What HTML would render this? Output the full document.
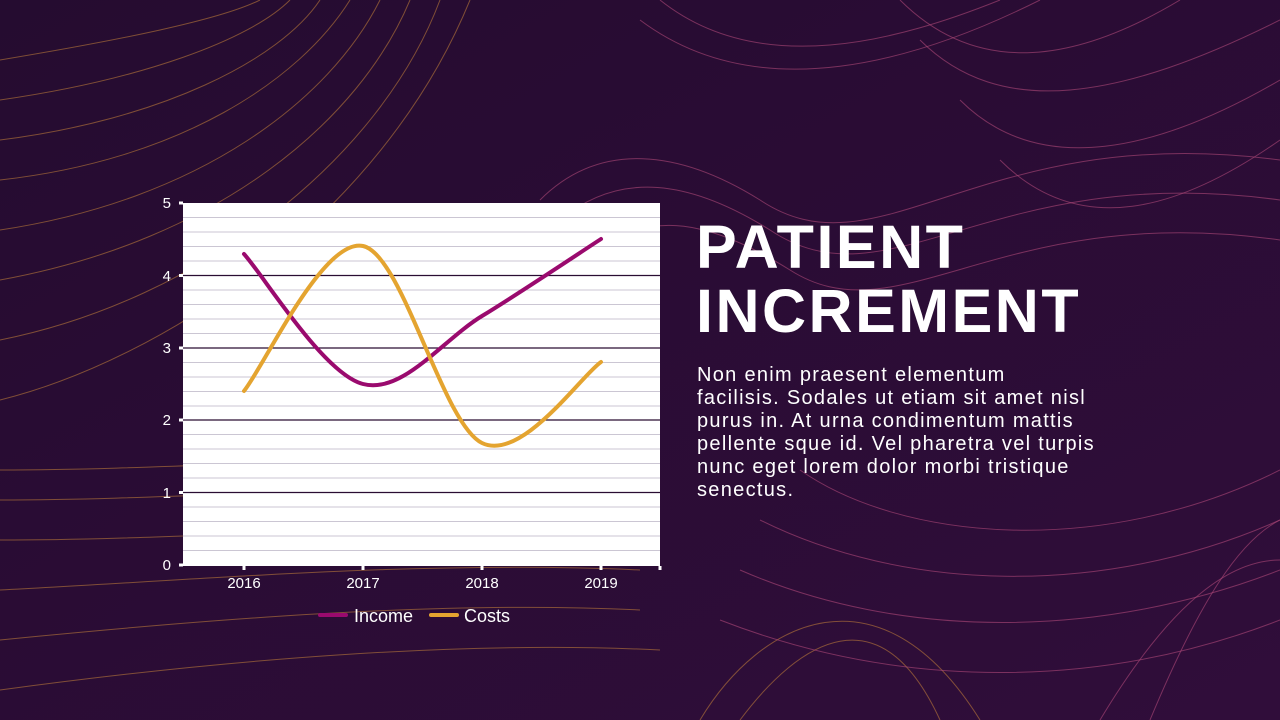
<!DOCTYPE html>
<html><head><meta charset="utf-8"><style>
html,body{margin:0;padding:0;}
body{width:1280px;height:720px;overflow:hidden;background:#2a0d33;position:relative;font-family:"Liberation Sans",sans-serif;}
svg{position:absolute;left:0;top:0;}
.title{position:absolute;left:696px;top:215px;color:#fff;font-weight:bold;font-size:61px;line-height:64px;letter-spacing:2.5px;white-space:nowrap;}
.body{position:absolute;left:697px;top:364px;color:#fff;font-size:20px;line-height:23px;letter-spacing:1.3px;white-space:nowrap;}
</style></head><body>
<svg width="1280" height="720" viewBox="0 0 1280 720">
<defs>
<linearGradient id="bg" x1="0" y1="0" x2="1" y2="1"><stop offset="0" stop-color="#250c30"/><stop offset="1" stop-color="#300d3a"/></linearGradient>
</defs>
<rect width="1280" height="720" fill="url(#bg)"/>
<g fill="none" stroke="#c9853a" stroke-opacity="0.55" stroke-width="1">
<path d="M0,60 C120,40 220,20 260,0"/>
<path d="M0,100 C140,80 250,40 290,0"/>
<path d="M0,140 C160,120 280,60 320,0"/>
<path d="M0,180 C180,160 300,80 350,0"/>
<path d="M0,230 C200,200 330,100 380,0"/>
<path d="M0,280 C220,240 360,120 410,0"/>
<path d="M0,340 C200,300 380,160 440,0"/>
<path d="M0,400 C160,360 380,220 470,0"/>
<path d="M0,470 C200,470 400,450 640,460"/>
<path d="M0,500 C200,500 400,480 640,490"/>
<path d="M0,540 C200,540 420,520 640,530"/>
<path d="M0,590 C200,580 420,560 640,570"/>
<path d="M0,640 C200,620 440,600 640,610"/>
<path d="M0,690 C220,660 460,640 660,650"/>
<path d="M700,720 C760,620 880,560 980,720"/>
<path d="M740,720 C800,640 880,590 940,720"/>
</g>
<g fill="none" stroke="#b04a7a" stroke-opacity="0.6" stroke-width="1">
<path d="M540,200 C600,140 680,150 760,200 C880,280 980,120 1280,160"/>
<path d="M560,220 C620,170 690,180 770,230 C890,310 990,160 1280,200"/>
<path d="M600,250 C650,210 710,220 790,270 C900,340 1000,200 1280,240"/>
<path d="M660,0 C760,80 900,40 1000,0"/>
<path d="M640,20 C760,110 920,60 1040,0"/>
<path d="M900,0 C980,80 1080,60 1180,0"/>
<path d="M920,40 C1000,120 1120,100 1280,20"/>
<path d="M960,100 C1040,180 1160,150 1280,80"/>
<path d="M1000,160 C1080,240 1180,210 1280,140"/>
<path d="M800,470 C900,540 1100,560 1280,470"/>
<path d="M760,520 C900,590 1100,600 1280,520"/>
<path d="M740,570 C900,640 1100,640 1280,570"/>
<path d="M720,620 C900,690 1100,690 1280,620"/>
<path d="M1150,720 C1200,600 1240,540 1280,520"/>
<path d="M1100,720 C1160,620 1220,560 1280,560"/>
</g>
<rect x="183" y="203" width="477" height="363" fill="#fff"/>
<g stroke="#cbc6d3" stroke-width="1">
<line x1="183" x2="660" y1="217.5" y2="217.5"/><line x1="183" x2="660" y1="232" y2="232"/><line x1="183" x2="660" y1="246.5" y2="246.5"/><line x1="183" x2="660" y1="261" y2="261"/>
<line x1="183" x2="660" y1="290" y2="290"/><line x1="183" x2="660" y1="304.5" y2="304.5"/><line x1="183" x2="660" y1="319" y2="319"/><line x1="183" x2="660" y1="333.5" y2="333.5"/>
<line x1="183" x2="660" y1="362.5" y2="362.5"/><line x1="183" x2="660" y1="377" y2="377"/><line x1="183" x2="660" y1="391.5" y2="391.5"/><line x1="183" x2="660" y1="406" y2="406"/>
<line x1="183" x2="660" y1="434.5" y2="434.5"/><line x1="183" x2="660" y1="449" y2="449"/><line x1="183" x2="660" y1="463.5" y2="463.5"/><line x1="183" x2="660" y1="478" y2="478"/>
<line x1="183" x2="660" y1="507" y2="507"/><line x1="183" x2="660" y1="521.5" y2="521.5"/><line x1="183" x2="660" y1="536" y2="536"/><line x1="183" x2="660" y1="550.5" y2="550.5"/>
</g>
<g stroke="#2a0d33" stroke-width="1.2">
<line x1="183" x2="660" y1="275.5" y2="275.5"/><line x1="183" x2="660" y1="348" y2="348"/><line x1="183" x2="660" y1="420" y2="420"/><line x1="183" x2="660" y1="492.5" y2="492.5"/>
</g>
<g stroke="#fff" stroke-width="3">
<line x1="179" x2="183" y1="203" y2="203"/><line x1="179" x2="183" y1="275.5" y2="275.5"/><line x1="179" x2="183" y1="348" y2="348"/><line x1="179" x2="183" y1="420" y2="420"/><line x1="179" x2="183" y1="492.5" y2="492.5"/><line x1="179" x2="183" y1="565" y2="565"/>
<line x1="244" x2="244" y1="566" y2="570"/><line x1="363" x2="363" y1="566" y2="570"/><line x1="482" x2="482" y1="566" y2="570"/><line x1="601" x2="601" y1="566" y2="570"/><line x1="660" x2="660" y1="566" y2="570"/>
</g>
<g font-family="Liberation Sans, sans-serif" font-size="15" fill="#fff" text-anchor="end">
<text x="171" y="208">5</text><text x="171" y="281">4</text><text x="171" y="353">3</text><text x="171" y="425">2</text><text x="171" y="498">1</text><text x="171" y="570">0</text>
</g>
<g font-family="Liberation Sans, sans-serif" font-size="15" fill="#fff" text-anchor="middle">
<text x="244" y="588">2016</text><text x="363" y="588">2017</text><text x="482" y="588">2018</text><text x="601" y="588">2019</text>
</g>
<path d="M244,254 C263.8,275.7 323.3,373.7 363,384 C402.7,394.3 442.3,340.2 482,316 C521.7,291.8 581.2,251.8 601,239" fill="none" stroke="#9a0a6e" stroke-width="4" stroke-linecap="round"/>
<path d="M244,391 C263.8,366.8 323.3,237.3 363,246 C402.7,254.7 442.3,423.7 482,443 C521.7,462.3 581.2,375.5 601,362" fill="none" stroke="#e4a430" stroke-width="4" stroke-linecap="round"/>
<line x1="320" x2="346" y1="615" y2="615" stroke="#9a0a6e" stroke-width="4" stroke-linecap="round"/>
<text x="354" y="622" font-family="Liberation Sans, sans-serif" font-size="18" fill="#fff">Income</text>
<line x1="431" x2="457" y1="615" y2="615" stroke="#e4a430" stroke-width="4" stroke-linecap="round"/>
<text x="464" y="622" font-family="Liberation Sans, sans-serif" font-size="18" fill="#fff">Costs</text>
</svg>
<div class="title">PATIENT<br>INCREMENT</div>
<div class="body">Non enim praesent elementum<br>facilisis. Sodales ut etiam sit amet nisl<br>purus in. At urna condimentum mattis<br>pellente sque id. Vel pharetra vel turpis<br>nunc eget lorem dolor morbi tristique<br>senectus.</div>
</body></html>
